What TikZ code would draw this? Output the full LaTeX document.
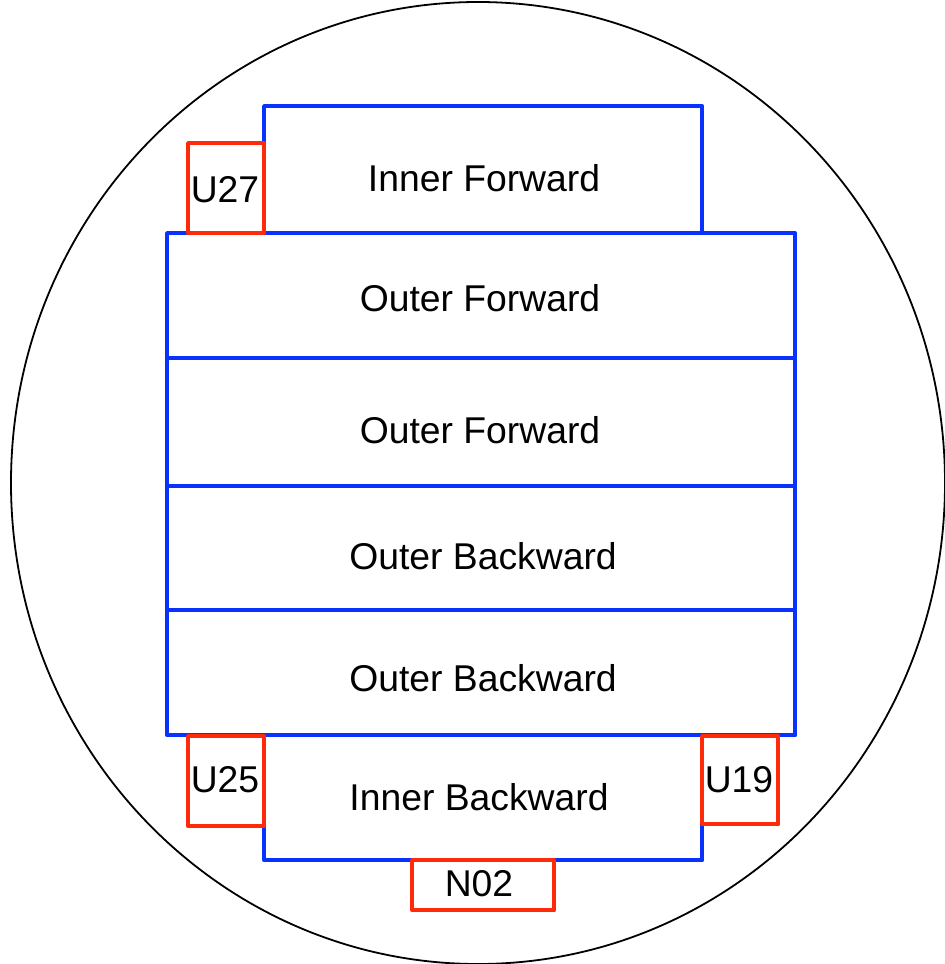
\documentclass[tikz,border=0pt]{standalone}
\usepackage{fontspec}
\setmainfont{Liberation Sans}
\definecolor{boxblue}{RGB}{10,50,255}
\definecolor{boxred}{RGB}{255,42,10}
\begin{document}
\begin{tikzpicture}[x=1pt,y=-1pt,
  bluebox/.style={draw=boxblue,line width=4.4pt,line join=round,inner sep=0pt,anchor=north west},
  redbox/.style={draw=boxred,line width=4.4pt,line join=round,inner sep=0pt,anchor=north west},
  lbl/.style={inner sep=0pt,font=\fontsize{37.3}{44}\selectfont}]
\useasboundingbox (0,0) rectangle (945,964);
\draw[line width=1.8pt] (478,483) ellipse [x radius=467pt, y radius=481pt];
% blue boxes
\node[bluebox,minimum width=438pt,minimum height=127pt] (if) at (262,104) {};
\node[bluebox,minimum width=628pt,minimum height=125pt] (of1) at (165,231) {};
\node[bluebox,minimum width=628pt,minimum height=128pt] (of2) at (165,356) {};
\node[bluebox,minimum width=628pt,minimum height=124pt] (ob1) at (165,484) {};
\node[bluebox,minimum width=628pt,minimum height=125pt] (ob2) at (165,608) {};
\node[bluebox,minimum width=438pt,minimum height=125pt] (ib) at (262,733) {};
\node[lbl] (tif) at (484,178) {Inner Forward};
\node[lbl] (tof1) at (480,298) {Outer Forward};
\node[lbl] (tof2) at (480,430) {Outer Forward};
\node[lbl] (tob1) at (483,556) {Outer Backward};
\node[lbl] (tob2) at (483,678) {Outer Backward};
\node[lbl] (tib) at (479,797) {Inner Backward};
% red boxes
\node[redbox,minimum width=76pt,minimum height=90pt] (u27) at (186,141) {};
\node[redbox,minimum width=76pt,minimum height=90pt] (u25) at (186,734) {};
\node[redbox,minimum width=76pt,minimum height=88pt] (u19) at (700,734) {};
\node[redbox,minimum width=142pt,minimum height=50pt] (n02) at (410,858) {};
\node[lbl] (tu27) at (225,190) {U27};
\node[lbl] (tu25) at (225,780) {U25};
\node[lbl] (tu19) at (739,780) {U19};
\node[lbl] (tn02) at (479,884) {N02};
\end{tikzpicture}
\end{document}
